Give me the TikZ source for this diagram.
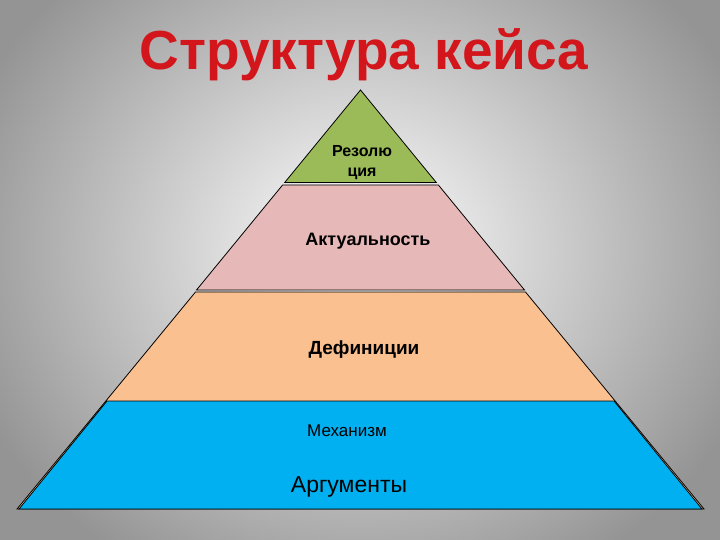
\documentclass[tikz,border=0pt]{standalone}
\usepackage{fontspec}
\setmainfont{Liberation Sans}
\definecolor{titlered}{HTML}{D2161B}
\definecolor{topgreen}{HTML}{9BBB59}
\definecolor{layerpink}{HTML}{E6B9B8}
\definecolor{layerpeach}{HTML}{FAC090}
\definecolor{layerblue}{HTML}{00B0F0}
\tikzset{
  layer/.style={draw=black,line width=0.8pt,line join=miter},
  label/.style={inner sep=0pt,align=center,text=black},
}
\begin{document}
\begin{tikzpicture}[x=1pt,y=-1pt]
      \useasboundingbox (0,0) rectangle (720,540);
      \clip (0,0) rectangle (720,540);
      \shade[inner color=white,outer color=black!42] (-60,-120) rectangle (780,620);
      % title
      \node[label,text=titlered,font=\fontsize{55}{60}\bfseries] (title) at (364,55) {Структура кейса};
      % pyramid layers
      \coordinate (apex) at (360.5,90);
      \draw[layer,fill=layerpeach]
        (195.5,292) -- (525.5,292) -- (704,509) -- (17,509) -- cycle;
      \draw[layer,fill=layerblue]
        (107,401) -- (614,401) -- (702,509) -- (19,509) -- cycle;
      \draw[layer,fill=layerpink]
        (282.6,185) -- (438.4,185) -- (524.5,290) -- (196.5,290) -- cycle;
      \draw[layer,fill=topgreen]
        (apex) -- (436.3,182.5) -- (284.7,182.5) -- cycle;
      % texts
      \node[label,font=\fontsize{16}{20}\bfseries] (reso) at (362,163) {Резолю\\ция};
      \node[label,font=\fontsize{18}{20}\bfseries] (akt) at (368,241) {Актуальность};
      \node[label,font=\fontsize{19}{20}\bfseries] (defin) at (364,350) {Дефиниции};
      \node[label,font=\fontsize{17}{18}\selectfont] (mech) at (347,431) {Механизм};
      \node[label,font=\fontsize{23}{24}\selectfont] (argum) at (349,487) {Аргументы};
    \end{tikzpicture}
\end{document}
